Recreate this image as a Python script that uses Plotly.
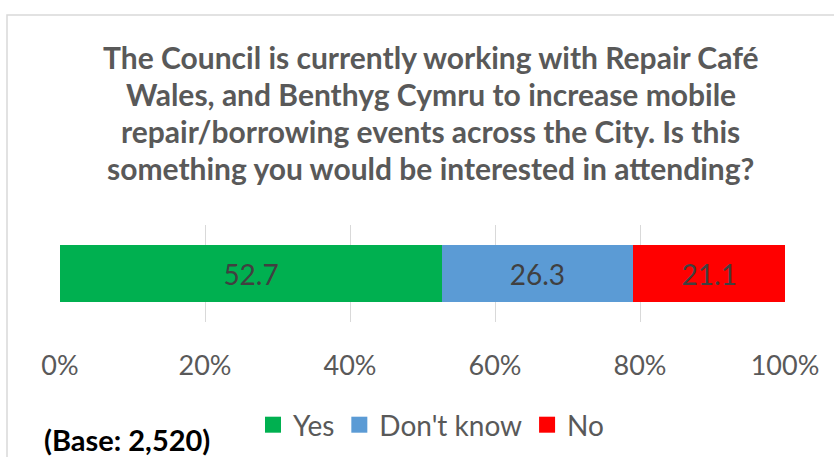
import plotly.graph_objects as go

categories = ["Yes", "Don't know", "No"]
values = [52.7, 26.3, 21.1]
colors = ["#00B050", "#5B9BD5", "#FF0000"]
title_lines = [
    "The Council is currently working with Repair Café",
    "Wales, and Benthyg Cymru to increase mobile",
    "repair/borrowing events across the City. Is this",
    "something you would be interested in attending?",
]
tick_vals = [0, 20, 40, 60, 80, 100]
tick_text = ["0%", "20%", "40%", "60%", "80%", "100%"]
base_text = "(Base: 2,520)"

W, H = 834, 457
L, R, T, B = 60, 49, 225, 135
pw, ph = W - L - R, H - T - B

def px(x):
    return (x - L) / pw

def py(y):
    return 1 + (T - y) / ph

fig = go.Figure()
for cat, val, col in zip(categories, values, colors):
    fig.add_trace(go.Bar(
        x=[val], y=[""], name=cat, orientation="h",
        marker=dict(color=col, line=dict(width=0)),
        text=[f"{val:.1f}"], textposition="inside", insidetextanchor="middle",
        textfont=dict(family="Lato", size=28, color="#404040"),
        hoverinfo="skip", showlegend=False,
    ))
# legend entries (square swatches)
for cat, col in zip(categories, colors):
    fig.add_trace(go.Scatter(
        x=[None], y=[None], name=cat, mode="markers",
        marker=dict(symbol="square", size=18, color=col),
        showlegend=True, hoverinfo="skip",
    ))

annotations = []
for i, line in enumerate(title_lines):
    annotations.append(dict(
        text=line, x=px(431), y=py(57 + i * 37), xref="paper", yref="paper",
        xanchor="center", yanchor="middle", showarrow=False,
        font=dict(family="Lato", size=30, color="#595959", weight="bold"),
    ))
annotations.append(dict(
    text="<b>" + base_text + "</b>", x=px(127), y=py(439), xref="paper", yref="paper",
    xanchor="center", yanchor="middle", showarrow=False,
    font=dict(family="Lato", size=29, color="#000000"),
))

fig.update_layout(
    width=W, height=H,
    margin=dict(l=L, r=R, t=T, b=B, pad=0, autoexpand=False),
    barmode="stack", bargap=0.42,
    plot_bgcolor="white", paper_bgcolor="white",
    showlegend=True,
    legend=dict(
        orientation="h", x=px(431), y=py(425), xanchor="center", yanchor="middle",
        font=dict(family="Lato", size=28, color="#595959"),
        itemsizing="trace", traceorder="normal", tracegroupgap=0,
        bgcolor="rgba(0,0,0,0)",
    ),
    xaxis=dict(
        range=[0, 100], tickvals=tick_vals, ticktext=tick_text,
        showgrid=True, gridcolor="#D9D9D9", gridwidth=1,
        zeroline=False, showline=False,
        ticks="outside", ticklen=20, tickcolor="rgba(0,0,0,0)",
        tickfont=dict(family="Lato", size=27, color="#595959"),
        fixedrange=True,
    ),
    yaxis=dict(range=[-0.5, 0.5], showticklabels=False, showgrid=False, zeroline=False, fixedrange=True),
    annotations=annotations,
    shapes=[dict(
        type="rect", xref="paper", yref="paper",
        x0=px(7), x1=px(900), y0=py(520), y1=py(15),
        line=dict(color="#D9D9D9", width=1.5), fillcolor="rgba(0,0,0,0)", layer="below",
    )],
)

fig.write_html(
    "out.html",
    config={"displayModeBar": False},
    post_script="document.body.style.margin='0';document.body.style.overflow='hidden';",
)
